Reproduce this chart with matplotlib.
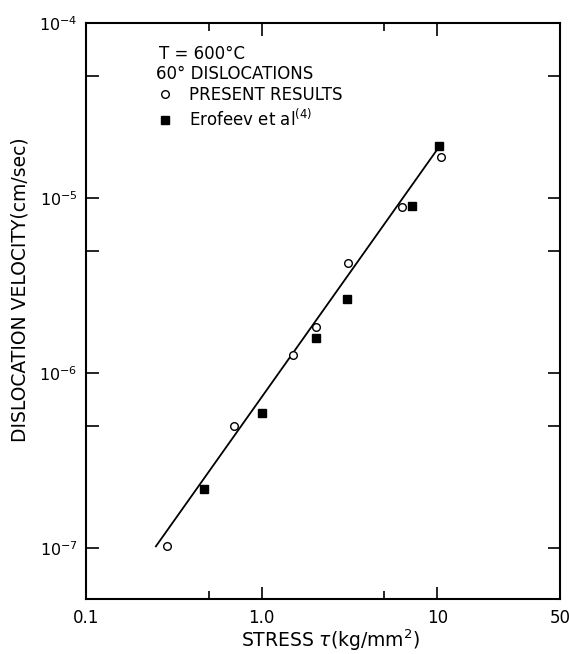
import matplotlib
matplotlib.use('Agg')
import matplotlib.pyplot as plt
from matplotlib.ticker import FixedLocator, FixedFormatter, NullFormatter
from matplotlib.lines import Line2D

# ---- data ----
present_x = [0.29, 0.70, 1.51, 2.04, 3.11, 6.28, 10.5]
present_y = [1.02e-7, 5.0e-7, 1.26e-6, 1.84e-6, 4.23e-6, 8.9e-6, 1.72e-5]
erofeev_x = [0.47, 1.0, 2.05, 3.07, 7.2, 10.3]
erofeev_y = [2.17e-7, 5.9e-7, 1.59e-6, 2.64e-6, 9.0e-6, 1.97e-5]
fit_x = [0.25, 10.1]
fit_y = [1.02e-7, 1.92e-5]

xtick_vals = [0.1, 1.0, 10, 50]
xtick_labels = ['0.1', '1.0', '10', '50']
xminor_vals = [0.5, 5]
ytick_vals = [1e-7, 1e-6, 1e-5, 1e-4]
ytick_labels = [r'$10^{-7}$', r'$10^{-6}$', r'$10^{-5}$', r'$10^{-4}$']
yminor_vals = [5e-7, 5e-6, 5e-5]

W, H = 569, 654
fig = plt.figure(figsize=(W / 100, H / 100), dpi=100)
ax = fig.add_axes([86 / W, 1 - 599 / H, (560 - 86) / W, (599 - 23) / H])

ax.set_xscale('log')
ax.set_yscale('log')
ax.set_xlim(0.1, 50)
ax.set_ylim(5.1e-8, 1e-4)

ax.plot(fit_x, fit_y, color='black', lw=1.3)
ax.plot(present_x, present_y, linestyle='none', marker='o', markersize=5.5,
        markerfacecolor='white', markeredgecolor='black', markeredgewidth=1.0)
ax.plot(erofeev_x, erofeev_y, linestyle='none', marker='s', markersize=6,
        markerfacecolor='black', markeredgecolor='black')

ax.xaxis.set_major_locator(FixedLocator(xtick_vals))
ax.xaxis.set_major_formatter(FixedFormatter(xtick_labels))
ax.xaxis.set_minor_locator(FixedLocator(xminor_vals))
ax.xaxis.set_minor_formatter(NullFormatter())
ax.yaxis.set_major_locator(FixedLocator(ytick_vals))
ax.yaxis.set_major_formatter(FixedFormatter(ytick_labels))
ax.yaxis.set_minor_locator(FixedLocator(yminor_vals))
ax.yaxis.set_minor_formatter(NullFormatter())

ax.tick_params(axis='both', which='both', direction='in', top=True, right=True,
               width=1.2, color='black')
ax.tick_params(axis='x', which='major', length=9, labelsize=12, pad=7)
ax.tick_params(axis='x', which='minor', length=6)
ax.tick_params(axis='y', which='major', length=9, labelsize=11.5, pad=6)
ax.tick_params(axis='y', which='minor', length=9)
for s in ax.spines.values():
    s.set_linewidth(1.5)

fig.text(20 / W, 1 - 290 / H, 'DISLOCATION VELOCITY(cm/sec)', rotation=90,
         ha='center', va='center', fontsize=13.5)
fig.text(330 / W, 1 - 640 / H, r'STRESS $\tau$(kg/mm$^2$)', ha='center',
         va='center', fontsize=13.5)

fig.text(159 / W, 1 - 54 / H, 'T = 600°C', ha='left', va='center', fontsize=12)
fig.text(156 / W, 1 - 74 / H, '60° DISLOCATIONS', ha='left', va='center', fontsize=12)

handles = [Line2D([], [], linestyle='none', marker='o', markersize=5.5,
                  markerfacecolor='white', markeredgecolor='black'),
           Line2D([], [], linestyle='none', marker='s', markersize=6,
                  markerfacecolor='black', markeredgecolor='black')]
labels = ['PRESENT RESULTS', r'Erofeev et al$^{(4)}$']
fig.legend(handles, labels, loc='upper left', bbox_to_anchor=(157 / W, 1 - 86 / H),
           frameon=False, fontsize=12, handlelength=1.0, handletextpad=0.93,
           borderpad=0, borderaxespad=0, labelspacing=0.3)

fig.savefig('out.png', dpi=100)
